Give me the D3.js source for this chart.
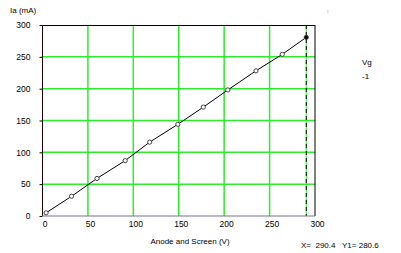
<!DOCTYPE html>
<meta charset="utf-8">
<style>
  body { margin: 0; background: #fff; }
  text { font-family: "Liberation Sans", Arial, sans-serif; font-size: 8px; fill: #000; }
</style>
<body>
<script src="https://d3js.org/d3.v7.min.js"></script>
<script>
  // data
  var anodeV = [4, 32, 60, 91, 118, 149, 177, 204, 235, 264, 290.4];
  var anodeI = [5, 31, 59, 87, 116, 144, 171, 198, 228, 254, 280.6];
  var xTicks = [0, 50, 100, 150, 200, 250, 300];
  var yTicks = [0, 50, 100, 150, 200, 250, 300];
  var cursorX = 290.4, cursorY = 280.6;
  var vgValue = "-1";

  var svg = d3.select("body").append("svg")
          .attr("width", 401)
          .attr("height", 253);

  var margin = {top: 25, right: 86, bottom: 37, left: 42.5},
          width = 401 - margin.left - margin.right,
          height = 253 - margin.top - margin.bottom,
          g = svg.append("g").attr("transform", "translate(" + margin.left + "," + margin.top + ")");

  var x = d3.scaleLinear().domain([0, 300]).range([0, width]);
  var y = d3.scaleLinear().domain([0, 300]).range([height, 0]);

  // green grid
  g.selectAll(".vgrid").data(xTicks.slice(1, -1)).enter().append("line")
          .attr("x1", function(d) { return x(d); }).attr("x2", function(d) { return x(d); })
          .attr("y1", 0).attr("y2", height)
          .style("stroke", "#2cec2c").style("stroke-width", 1.5);
  g.selectAll(".hgrid").data(yTicks.slice(1, -1)).enter().append("line")
          .attr("x1", 0).attr("x2", width)
          .attr("y1", function(d) { return y(d); }).attr("y2", function(d) { return y(d); })
          .style("stroke", "#2cec2c").style("stroke-width", 1.5);

  // cursor line
  g.append("line")
          .attr("x1", x(cursorX)).attr("x2", x(cursorX))
          .attr("y1", 0).attr("y2", height)
          .style("stroke", "#2cec2c").style("stroke-width", 1);
  g.append("line")
          .attr("x1", x(cursorX)).attr("x2", x(cursorX))
          .attr("y1", 0).attr("y2", height)
          .style("stroke", "#000").style("stroke-width", 1)
          .style("stroke-dasharray", "4,3");

  // frame
  g.append("line").attr("x1", 0).attr("x2", width).attr("y1", 0.5).attr("y2", 0.5).style("stroke", "#000");
  g.append("line").attr("x1", width).attr("x2", width).attr("y1", 0).attr("y2", height).style("stroke", "#000");

  // axes
  var yAxis = g.append("g")
          .call(d3.axisLeft(y).tickValues(yTicks).tickSize(3).tickPadding(9));
  yAxis.select(".domain").attr("d", "M0,0V" + height).style("stroke", "#200000");
  yAxis.selectAll("text").style("font-size", "8.5px").style("font-family", "Liberation Sans, Arial, sans-serif");

  var xAxis = g.append("g")
          .attr("transform", "translate(0," + height + ")")
          .call(d3.axisBottom(x).tickValues(xTicks).tickSize(0).tickPadding(5));
  xAxis.select(".domain").attr("d", "M0,0H" + width).style("stroke", "#7a7090");
  xAxis.selectAll("text").attr("dx", "2px").style("font-size", "8.5px").style("font-family", "Liberation Sans, Arial, sans-serif");

  // data line and markers
  var pts = anodeV.map(function(v, i) { return [v, anodeI[i]]; });
  var line = d3.line()
          .x(function(d) { return x(d[0]); })
          .y(function(d) { return y(d[1]); });
  g.append("path").datum(pts)
          .attr("d", line)
          .style("fill", "none").style("stroke", "#000").style("stroke-width", 1);

  g.selectAll(".pt").data(pts).enter().append("path")
          .attr("transform", function(d) { return "translate(" + x(d[0]) + "," + y(d[1]) + ")"; })
          .attr("d", d3.symbol().type(d3.symbolCircle).size(14))
          .style("fill", function(d, i) { return i === pts.length - 1 ? "#000" : "#fff"; })
          .style("stroke", "#444").style("stroke-width", 1);

  // labels
  svg.append("text").attr("x", 10).attr("y", 13).text("Ia (mA)");
  svg.append("text").attr("x", 190).attr("y", 244).attr("text-anchor", "middle").text("Anode and Screen (V)");
  svg.append("text").attr("x", 301).attr("y", 248).style("white-space", "pre")
          .text("X=  " + cursorX.toFixed(1) + "   Y1= " + cursorY.toFixed(1));
  svg.append("text").attr("x", 362).attr("y", 65).text("Vg");
  svg.append("text").attr("x", 362).attr("y", 79).text(vgValue);
  svg.append("text").attr("x", 327).attr("y", 14).style("font-size", "6px").style("fill", "#999").text("!");
</script>
</body>
</html>
